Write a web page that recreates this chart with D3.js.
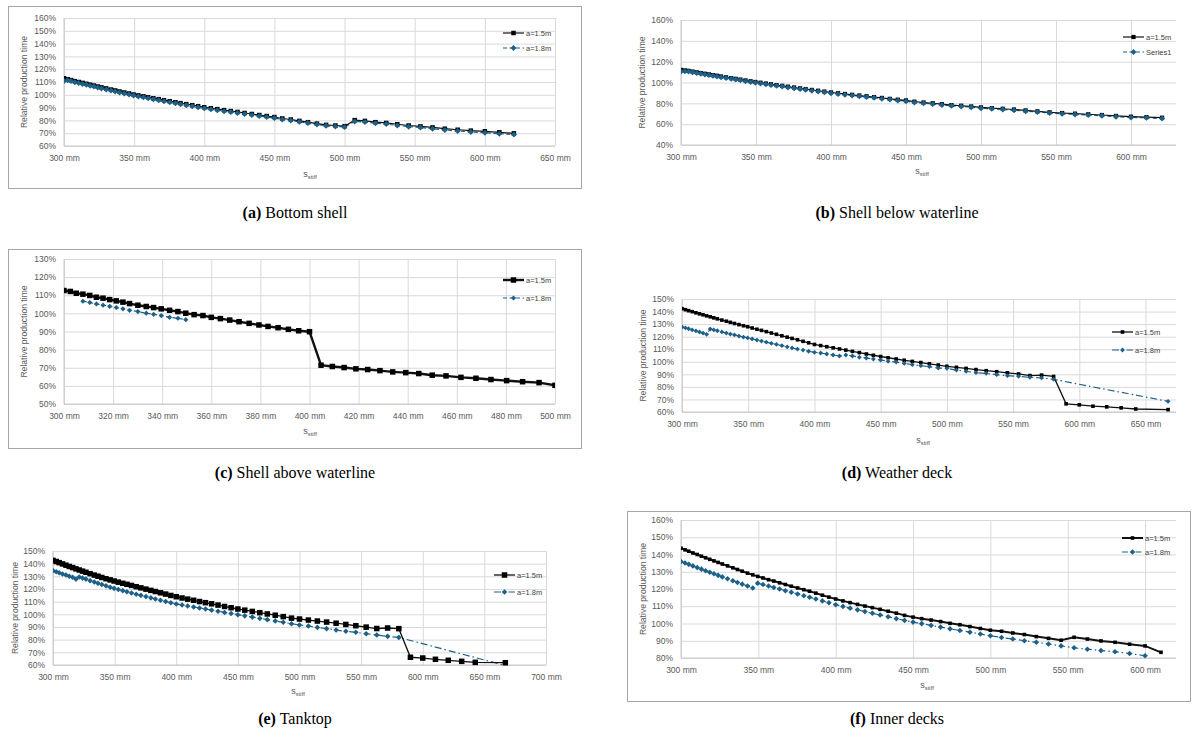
<!DOCTYPE html>
<html>
<head>
<meta charset="utf-8">
<script src="https://cdn.jsdelivr.net/npm/d3@7"></script>
<style>
body { margin: 0; background: #fff; }
</style>
</head>
<body>
<script>

// stiffener spacing grid (mm), shared by all panels
let sGrid = [300, 302.6, 305, 307.7, 310.5, 313.2, 315.9, 318.6, 321.3, 324,
	326.7, 330.1, 333.5, 336.5, 339.6, 343, 346.4, 349.6, 353, 356.6,
	360, 363.7, 367.5, 371.3, 375.4, 379.4, 383.1, 387.2, 391.4, 395.6,
	400, 404.7, 409.3, 414.1, 418.9, 423.7, 428.7, 433.9, 439.2, 444.5,
	450, 455.6, 461.7, 467.8, 473.9, 480.3, 486.8, 493.5, 500, 507.2,
	514.5, 522, 529.7, 537.6, 545.7, 554.1, 562.7, 571.5, 580.6, 590,
	600, 610.3, 620.7];
let sGridLong = sGrid.concat([631.6, 642.6, 667]);

// relative production time (%) per panel, a=1.5m and a=1.8m
let bottom15 = [112.9, 112.2, 111.5, 110.7, 110.0, 109.3, 108.6, 107.9, 107.2, 106.5,
	105.8, 105.0, 104.1, 103.4, 102.6, 101.8, 101.0, 100.2, 99.5, 98.8,
	98.1, 97.3, 96.6, 95.8, 95.0, 94.2, 93.5, 92.7, 91.9, 91.1,
	90.3, 89.5, 88.8, 88.0, 87.3, 86.6, 85.8, 85.0, 84.2, 83.4,
	82.6, 81.5, 80.7, 79.6, 78.6, 77.5, 76.5, 76.0, 75.5, 80.2,
	79.6, 78.6, 78.0, 77.0, 76.0, 75.3, 74.5, 73.5, 72.7, 72.0,
	71.5, 70.7, 69.9];
let bottom18 = [110.8, 111.3, 110.7, 109.9, 109.2, 108.5, 107.8, 107.1, 106.4, 105.7,
	105.0, 104.2, 103.3, 102.6, 101.8, 101.0, 100.2, 99.4, 98.7, 98.0,
	97.3, 96.5, 95.8, 95.0, 94.2, 93.4, 92.7, 91.9, 91.1, 90.3,
	89.5, 88.7, 88.0, 87.2, 86.5, 85.8, 85.0, 84.2, 83.4, 82.6,
	81.8, 80.8, 80.0, 78.9, 77.9, 76.8, 75.8, 75.3, 74.9, 79.2,
	78.7, 77.7, 77.1, 76.1, 75.1, 74.4, 73.5, 72.5, 71.7, 71.0,
	70.4, 69.6, 68.9];

let below15 = [112.1, 111.6, 111.2, 110.5, 109.8, 109.1, 108.4, 107.8, 107.1, 106.5,
	105.8, 105.0, 104.2, 103.5, 102.8, 102.0, 101.2, 100.5, 99.8, 99.0,
	98.3, 97.5, 96.8, 96.0, 95.2, 94.4, 93.7, 92.9, 92.1, 91.3,
	90.5, 89.7, 89.0, 88.2, 87.5, 86.8, 86.0, 85.2, 84.3, 83.5,
	82.8, 81.6, 80.8, 80.1, 79.2, 78.3, 77.7, 77.0, 76.1, 75.4,
	74.8, 74.1, 73.2, 72.3, 71.4, 70.7, 70.1, 69.5, 68.8, 67.9,
	67.2, 66.8, 66.2];
let belowS1 = [110.6, 110.9, 110.5, 109.8, 109.1, 108.4, 107.7, 107.1, 106.4, 105.8,
	105.1, 104.3, 103.5, 102.8, 102.1, 101.3, 100.5, 99.8, 99.1, 98.3,
	97.6, 96.8, 96.1, 95.3, 94.5, 93.7, 93.0, 92.2, 91.4, 90.6,
	89.8, 89.0, 88.3, 87.5, 86.8, 86.1, 85.3, 84.5, 83.6, 82.8,
	82.1, 80.9, 80.1, 79.4, 78.5, 77.6, 77.0, 76.3, 75.4, 74.7,
	74.1, 73.4, 72.5, 71.6, 70.7, 70.0, 69.4, 68.8, 68.1, 67.2,
	66.5, 66.1, 65.4];

let above15 = [112.6, 112.1, 111.1, 110.6, 109.9, 108.9, 108.4, 107.6, 106.9, 106.2,
	105.4, 104.5, 103.8, 103.2, 102.5, 101.7, 101.0, 100.1, 99.3, 98.8,
	97.8, 97.1, 96.3, 95.4, 94.5, 93.6, 92.8, 92.1, 91.2, 90.4,
	89.9, 71.4, 70.7, 70.1, 69.4, 69.0, 68.4, 67.7, 67.3, 66.8,
	65.9, 65.5, 64.7, 64.2, 63.5, 62.9, 62.3, 61.8, 60.3];
let above18 = [null, null, null, 106.7, 106.0, 105.2, 104.5, 103.9, 103.2, 102.5,
	101.7, 101.0, 100.1, 99.5, 98.8, 97.8, 97.3, 96.5];

let weather15 = [142.3, 141.5, 140.7, 139.9, 139.0, 138.2, 137.4, 136.6, 135.8, 135.0,
	134.2, 133.2, 132.3, 131.4, 130.5, 129.6, 128.7, 127.9, 126.9, 125.9,
	125.0, 124.0, 122.9, 121.9, 120.7, 119.6, 118.6, 117.5, 116.3, 115.1,
	113.8, 112.9, 112.0, 111.1, 110.2, 109.3, 108.3, 107.3, 106.2, 105.2,
	104.2, 103.2, 102.2, 101.2, 100.3, 99.4, 98.4, 97.4, 96.4, 95.6,
	94.7, 93.8, 92.9, 92.1, 91.2, 90.3, 89.0, 89.4, 88.3, 66.5,
	65.7, 64.6, 64.1, 63.3, 62.4, 61.9];
let weather18 = [127.7, 127.0, 126.3, 125.4, 124.6, 123.7, 122.9, 121.9, 126.1, 125.4,
	124.7, 123.8, 122.9, 122.1, 121.4, 120.5, 119.7, 119.0, 118.2, 117.3,
	116.5, 115.6, 114.7, 113.8, 112.9, 111.9, 111.0, 110.1, 109.3, 108.4,
	107.5, 107.0, 106.2, 105.4, 104.6, 105.4, 104.6, 103.6, 103.0, 102.2,
	101.4, 100.4, 99.8, 98.7, 97.7, 96.9, 96.1, 95.0, 94.8, 93.4,
	92.4, 91.3, 90.8, 89.7, 88.9, 88.4, 87.6, 87.1, 86.0, null,
	null, null, null, null, null, 68.5];

let tank15 = [142.6, 141.7, 140.8, 139.8, 138.8, 137.8, 136.9, 135.9, 135.0, 134.1,
	133.2, 132.1, 131.0, 130.1, 129.1, 128.1, 127.2, 126.3, 125.4, 124.5,
	123.7, 122.8, 121.8, 120.9, 119.9, 118.9, 118.0, 117.0, 116.0, 114.9,
	113.9, 112.9, 112.0, 111.1, 110.1, 109.2, 108.3, 107.3, 106.2, 105.2,
	104.2, 103.3, 102.3, 101.3, 100.3, 99.3, 98.2, 97.0, 96.3, 95.5,
	94.7, 93.9, 93.0, 92.0, 91.0, 89.9, 88.8, 89.2, 88.7, 66.1,
	65.5, 64.5, 63.7, 62.9, 62.1, 61.8];
let tank18 = [134.5, 133.6, 132.8, 131.9, 131.0, 130.1, 129.3, 127.8, 129.5, 128.6,
	127.8, 126.6, 125.5, 124.5, 123.6, 122.5, 121.4, 120.5, 119.6, 118.7,
	117.8, 116.9, 115.9, 115.0, 114.0, 113.0, 112.1, 111.1, 110.1, 109.1,
	108.2, 107.4, 106.6, 105.8, 105.0, 104.2, 103.3, 102.4, 101.5, 100.6,
	99.7, 98.8, 97.8, 96.8, 95.8, 94.8, 93.7, 92.6, 91.6, 90.8,
	89.7, 88.7, 87.6, 86.6, 85.8, 84.7, 83.7, 82.6, 81.8, null,
	null, null, null, null, null, 59.6];

let inner15 = [143.6, 142.7, 141.9, 140.9, 140.0, 139.0, 138.1, 137.2, 136.3, 135.4,
	134.5, 133.4, 132.3, 131.3, 130.3, 129.2, 128.2, 127.3, 126.4, 125.4,
	124.6, 123.6, 122.6, 121.6, 120.6, 119.6, 118.7, 117.6, 116.4, 115.3,
	114.2, 113.1, 112.1, 111.1, 110.1, 109.2, 108.2, 107.1, 106.0, 104.7,
	103.7, 102.8, 102.0, 101.1, 100.1, 99.3, 98.2, 97.1, 96.1, 95.5,
	94.5, 93.6, 92.4, 91.4, 90.3, 92.0, 91.0, 89.9, 89.1, 88.0,
	87.0, 83.3];
let inner18 = [135.9, 135.1, 134.3, 133.4, 132.4, 131.5, 130.6, 129.7, 128.8, 127.9,
	127.0, 125.9, 124.8, 123.8, 122.8, 121.7, 120.6, 123.4, 122.6, 121.7,
	120.9, 120.0, 119.0, 118.1, 117.1, 116.1, 115.2, 114.2, 113.1, 112.0,
	110.9, 109.9, 108.9, 107.9, 106.9, 105.9, 104.9, 103.9, 102.8, 101.8,
	100.8, 99.9, 98.9, 97.9, 96.9, 95.9, 95.0, 93.9, 92.9, 91.9,
	91.0, 90.0, 89.1, 88.1, 87.0, 85.9, 85.1, 84.3, 83.6, 82.6,
	81.3];

let captionLetters = ["(a)", "(b)", "(c)", "(d)", "(e)", "(f)"];
let captionNames = ["Bottom shell", "Shell below waterline", "Shell above waterline", "Weather deck", "Tanktop", "Inner decks"];
let legendNames = [["a=1.5m", "a=1.8m"], ["a=1.5m", "Series1"], ["a=1.5m", "a=1.8m"],
	["a=1.5m", "a=1.8m"], ["a=1.5m", "a=1.8m"], ["a=1.5m", "a=1.8m"]];

let svg = d3.select("body").append("svg")
	.attr("width", 1194)
	.attr("height", 738);

let grey = "#595959";
let gridColor = "#d9d9d9";
let blue = "#1d6189";
let font = "'Liberation Sans', Arial, sans-serif";

// layout of each panel (pixels)
let panels = [
	{ s: sGrid, y15: bottom15, y18: bottom18, frame: [8, 6, 581, 188],
		left: 64, right: 555, top: 18, bottom: 146, xDom: [300, 650], xStep: 50, yDom: [60, 160], yStep: 10,
		legX: 503, legY: 33, legGap: 15, titleX: 24, sX: 310, sY: 177, capX: 295, capY: 218,
		sq: 4.5, lw: 1.2, dia: 3, dash: "4,2.5" },
	{ s: sGrid, y15: below15, y18: belowS1, frame: null,
		left: 681, right: 1176, top: 20, bottom: 145, xDom: [300, 630], xStep: 50, yDom: [40, 160], yStep: 20,
		legX: 1123, legY: 37, legGap: 15, titleX: 642, sX: 922, sY: 174, capX: 897, capY: 218,
		sq: 4.2, lw: 1.2, dia: 3, dash: "4,2.5" },
	{ s: sGrid, y15: above15, y18: above18, frame: [8, 249, 581, 448],
		left: 64, right: 555, top: 259, bottom: 404, xDom: [300, 500], xStep: 20, yDom: [50, 130], yStep: 10,
		legX: 503, legY: 280, legGap: 18, titleX: 24, sX: 310, sY: 434, capX: 295, capY: 478,
		sq: 5.5, lw: 2.4, dia: 2.6, dash: "4,2.5" },
	{ s: sGridLong, y15: weather15, y18: weather18, frame: null,
		left: 682, right: 1176, top: 299, bottom: 412, xDom: [300, 673], xStep: 50, yDom: [60, 150], yStep: 10,
		legX: 1112, legY: 332, legGap: 18, titleX: 643, sX: 923, sY: 443, capX: 897, capY: 478,
		sq: 3.6, lw: 1.3, dia: 2.4, dash: "7,3,1.5,3" },
	{ s: sGridLong, y15: tank15, y18: tank18, frame: null,
		left: 53, right: 546, top: 551, bottom: 665, xDom: [300, 700], xStep: 50, yDom: [60, 150], yStep: 10,
		legX: 494, legY: 575, legGap: 17, titleX: 15, sX: 298, sY: 694, capX: 295, capY: 724,
		sq: 5.5, lw: 1.3, dia: 2.8, dash: "7,3,1.5,3" },
	{ s: sGrid, y15: inner15, y18: inner18, frame: [627, 511, 1190, 701],
		left: 681, right: 1176, top: 520, bottom: 658, xDom: [300, 620], xStep: 50, yDom: [80, 160], yStep: 10,
		legX: 1122, legY: 538, legGap: 14, titleX: 643, sX: 927, sY: 688, capX: 897, capY: 724,
		sq: 3.6, lw: 2.0, dia: 2.8, dash: "6,3,1.5,3" }
];

function diamond(r) {
	return `M0,${-r}L${r},0L0,${r}L${-r},0Z`;
}

function drawPanel(p, i) {
	let x = d3.scaleLinear().domain(p.xDom).range([p.left, p.right]);
	let y = d3.scaleLinear().domain(p.yDom).range([p.bottom, p.top]);
	let g = svg.append("g");

	if (p.frame) {
		g.append("rect")
			.attr("x", p.frame[0] + 0.5).attr("y", p.frame[1] + 0.5)
			.attr("width", p.frame[2] - p.frame[0]).attr("height", p.frame[3] - p.frame[1])
			.attr("fill", "none").attr("stroke", "#a6a6a6").attr("stroke-width", 1);
	}

	let xTicks = d3.range(p.xDom[0], p.xDom[1] + 1, p.xStep);
	let yTicks = d3.range(p.yDom[0], p.yDom[1] + 1, p.yStep);

	let xAxis = g.append("g")
		.attr("transform", `translate(0,${p.bottom})`)
		.call(d3.axisBottom(x).tickValues(xTicks).tickSize(-(p.bottom - p.top)).tickPadding(9)
			.tickFormat(d => d + " mm"));
	let yAxis = g.append("g")
		.attr("transform", `translate(${p.left},0)`)
		.call(d3.axisLeft(y).tickValues(yTicks).tickSize(-(p.right - p.left)).tickPadding(8)
			.tickFormat(d => d + "%"));

	[xAxis, yAxis].forEach(a => {
		a.select(".domain").remove();
		a.selectAll(".tick line").attr("stroke", gridColor).attr("stroke-width", 1);
		a.selectAll(".tick text").attr("fill", grey).attr("font-family", font).attr("font-size", 8.5);
	});

	// axis lines
	g.append("line").attr("x1", p.left).attr("x2", p.right).attr("y1", p.bottom).attr("y2", p.bottom)
		.attr("stroke", "#c8c8c8");
	g.append("line").attr("x1", p.left).attr("x2", p.left).attr("y1", p.top).attr("y2", p.bottom)
		.attr("stroke", "#c8c8c8");

	g.append("text")
		.attr("transform", `translate(${p.titleX},${(p.top + p.bottom) / 2}) rotate(-90)`)
		.attr("text-anchor", "middle").attr("dy", "0.35em")
		.attr("fill", grey).attr("font-family", font).attr("font-size", 8.6)
		.text("Relative production time");

	let sLabel = g.append("text")
		.attr("x", p.sX).attr("y", p.sY)
		.attr("text-anchor", "middle")
		.attr("fill", grey).attr("font-family", font).attr("font-size", 9);
	sLabel.append("tspan").text("s");
	sLabel.append("tspan").attr("font-size", 6).attr("dy", 2).text("stiff");

	// clip to plot area
	let clipId = "clip" + i;
	g.append("clipPath").attr("id", clipId).append("rect")
		.attr("x", p.left).attr("y", p.top).attr("width", p.right - p.left).attr("height", p.bottom - p.top + 1);

	let pts15 = p.y15.map((v, k) => ({ s: p.s[k], v: v })).filter(d => d.v != null);
	let pts18 = p.y18.map((v, k) => ({ s: p.s[k], v: v })).filter(d => d.v != null);

	let line = d3.line().x(d => x(d.s)).y(d => y(d.v));
	let plot = g.append("g").attr("clip-path", `url(#${clipId})`);

	plot.append("path").datum(pts18)
		.attr("d", line).attr("fill", "none")
		.attr("stroke", blue).attr("stroke-width", 1.2).attr("stroke-dasharray", p.dash);
	plot.append("path").datum(pts15)
		.attr("d", line).attr("fill", "none")
		.attr("stroke", "#111").attr("stroke-width", p.lw);

	let inRange = d => d.v >= p.yDom[0] && d.v <= p.yDom[1];
	plot.selectAll(".sq").data(pts15.filter(inRange)).enter().append("rect")
		.attr("x", d => x(d.s) - p.sq / 2).attr("y", d => y(d.v) - p.sq / 2)
		.attr("width", p.sq).attr("height", p.sq).attr("fill", "#000");
	plot.selectAll(".dia").data(pts18.filter(inRange)).enter().append("path")
		.attr("transform", d => `translate(${x(d.s)},${y(d.v)})`)
		.attr("d", diamond(p.dia)).attr("fill", blue);

	// legend
	let names = legendNames[i];
	let lg = g.append("g").attr("font-family", font).attr("font-size", 7.5).attr("fill", "#404040");
	lg.append("line").attr("x1", p.legX).attr("x2", p.legX + 21).attr("y1", p.legY).attr("y2", p.legY)
		.attr("stroke", "#111").attr("stroke-width", p.lw);
	lg.append("rect").attr("x", p.legX + 10.5 - p.sq / 2).attr("y", p.legY - p.sq / 2)
		.attr("width", p.sq).attr("height", p.sq).attr("fill", "#000");
	lg.append("text").attr("x", p.legX + 23).attr("y", p.legY).attr("dy", "0.35em").text(names[0]);
	let ly = p.legY + p.legGap;
	lg.append("line").attr("x1", p.legX).attr("x2", p.legX + 21).attr("y1", ly).attr("y2", ly)
		.attr("stroke", blue).attr("stroke-width", 1.2).attr("stroke-dasharray", p.dash);
	lg.append("path").attr("transform", `translate(${p.legX + 10.5},${ly})`)
		.attr("d", diamond(p.dia)).attr("fill", blue);
	lg.append("text").attr("x", p.legX + 23).attr("y", ly).attr("dy", "0.35em").text(names[1]);

	// caption
	let cap = svg.append("text")
		.attr("x", p.capX).attr("y", p.capY)
		.attr("text-anchor", "middle")
		.attr("font-family", "'Liberation Serif', 'DejaVu Serif', serif")
		.attr("font-size", 16).attr("fill", "#000");
	cap.append("tspan").attr("font-weight", "bold").text(captionLetters[i]);
	cap.append("tspan").text(" " + captionNames[i]);
}

panels.forEach(drawPanel);

</script>
</body>
</html>
